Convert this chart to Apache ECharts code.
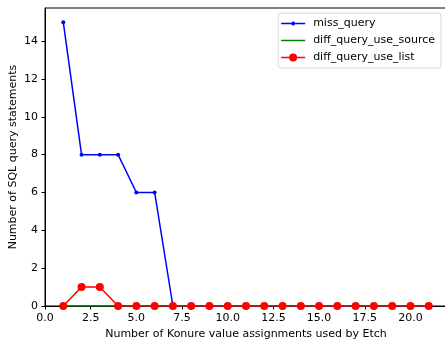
<!DOCTYPE html>
<html>
<head>
<meta charset="utf-8">
<script src="https://cdn.jsdelivr.net/npm/echarts@6/dist/echarts.min.js"></script>
<style>
  html, body { margin: 0; padding: 0; background: #fff; }
  #chart { width: 445px; height: 343px; }
</style>
</head>
<body>
<div id="chart"></div>
<script>
// Number of value assignments (x) and query counts per series
const assignments = [1, 2, 3, 4, 5, 6, 7, 8, 9, 10, 11, 12, 13, 14, 15, 16, 17, 18, 19, 20, 21];
const missQuery = [15, 8, 8, 8, 6, 6, 0, 0, 0, 0, 0, 0, 0, 0, 0, 0, 0, 0, 0, 0, 0];
const diffQueryUseSource = [0, 0, 0, 0, 0, 0, 0, 0, 0, 0, 0, 0, 0, 0, 0, 0, 0, 0, 0, 0, 0];
const diffQueryUseList = [0, 1, 1, 0, 0, 0, 0, 0, 0, 0, 0, 0, 0, 0, 0, 0, 0, 0, 0, 0, 0];
const seriesNames = ['miss_query', 'diff_query_use_source', 'diff_query_use_list'];

const pairs = ys => assignments.map((x, i) => [x, ys[i]]);
const font = 'DejaVu Sans';
const fs = 11;

// Legend keys: a line with a small dot, a plain line, a line with a large dot
const legendIcons = [
  'path://M0,1.25H10V2.75H0Z M14,1.25H24V2.75H14Z M10,2a2,2 0 1,0 4,0a2,2 0 1,0 -4,0Z',
  'path://M0,0H24V1.5H0Z',
  'path://M0,3.25H8V4.75H0Z M16,3.25H24V4.75H16Z M8,4a4,4 0 1,0 8,0a4,4 0 1,0 -8,0Z'
];

const chart = echarts.init(document.getElementById('chart'), null, { renderer: 'canvas' });
chart.setOption({
  animation: false,
  backgroundColor: '#fff',
  grid: {
    left: 45, width: 402, top: 8, height: 298,
    outerBoundsMode: 'none', containLabel: false,
    show: true, borderColor: '#000', borderWidth: 1
  },
  legend: {
    data: seriesNames.map((n, i) => ({ name: n, icon: legendIcons[i] })),
    orient: 'vertical',
    right: 4,
    top: 13,
    itemWidth: 24,
    itemHeight: 8,
    itemGap: 6,
    symbolKeepAspect: true,
    padding: [5, 6, 5, 3],
    backgroundColor: '#fff',
    borderColor: '#d8d8d8',
    borderWidth: 1,
    borderRadius: 3,
    textStyle: { fontFamily: font, fontSize: fs, color: '#000', padding: [0, 0, 0, 3] }
  },
  xAxis: {
    type: 'value',
    min: 0,
    max: 22,
    interval: 2.5,
    name: 'Number of Konure value assignments used by Etch',
    nameLocation: 'middle',
    nameGap: 23,
    nameMoveOverlap: false,
    nameTextStyle: { fontFamily: font, fontSize: fs, color: '#000' },
    axisLine: { lineStyle: { color: '#000', width: 1 } },
    axisTick: { show: true, length: 3.5, lineStyle: { color: '#000' } },
    axisLabel: {
      fontFamily: font, fontSize: fs, color: '#000', margin: 7,
      showMaxLabel: false,
      formatter: v => v.toFixed(1)
    },
    splitLine: { show: false }
  },
  yAxis: {
    type: 'value',
    min: 0,
    max: 15.75,
    interval: 2,
    name: 'Number of SQL query statements',
    nameLocation: 'middle',
    nameGap: 26,
    nameMoveOverlap: false,
    nameTextStyle: { fontFamily: font, fontSize: fs, color: '#000' },
    axisLine: { show: true, lineStyle: { color: '#000', width: 1 } },
    axisTick: { show: true, length: 3.5, lineStyle: { color: '#000' } },
    axisLabel: { fontFamily: font, fontSize: fs, color: '#000', margin: 7, showMaxLabel: false },
    splitLine: { show: false }
  },
  series: [
    {
      name: seriesNames[0],
      type: 'line',
      data: pairs(missQuery),
      symbol: 'circle',
      symbolSize: 4,
      color: '#0000ff',
      lineStyle: { color: '#0000ff', width: 1.5 },
      itemStyle: { color: '#0000ff' },
      z: 2
    },
    {
      name: seriesNames[1],
      type: 'line',
      data: pairs(diffQueryUseSource),
      symbol: 'none',
      color: '#008000',
      lineStyle: { color: '#008000', width: 1.5 },
      itemStyle: { color: '#008000' },
      z: 3
    },
    {
      name: seriesNames[2],
      type: 'line',
      data: pairs(diffQueryUseList),
      symbol: 'circle',
      symbolSize: 8,
      color: '#ff0000',
      lineStyle: { color: '#ff0000', width: 1.5 },
      itemStyle: { color: '#ff0000' },
      z: 4
    }
  ]
});
</script>
</body>
</html>
